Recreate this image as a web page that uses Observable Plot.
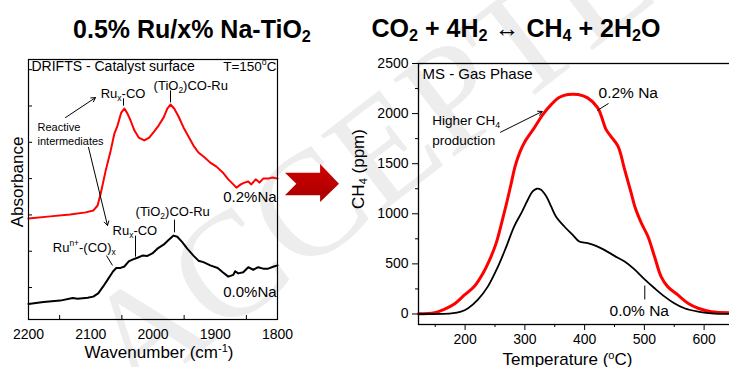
<!DOCTYPE html>
<html>
<head>
<meta charset="utf-8">
<script src="https://cdn.jsdelivr.net/npm/d3@7"></script>
<script src="https://cdn.jsdelivr.net/npm/@observablehq/plot@0.6"></script>
<style>
  html, body { margin: 0; padding: 0; background: #fff; overflow: hidden; }
  #wrap { position: relative; width: 729px; height: 367px; overflow: hidden;
          font-family: "Liberation Sans", Arial, sans-serif; color: #000; }
  .abs { position: absolute; white-space: nowrap; line-height: 1; }
  .c { transform: translate(-50%, -50%); }
  .title { font-weight: bold; font-size: 25px; }
  .axt { font-size: 17px; }
  sub, sup { font-size: 65%; line-height: 0; }
  sub { vertical-align: -0.3em; }
  sup { vertical-align: 0.5em; }
  #wm { font-family: "Liberation Serif", "DejaVu Serif", serif; font-size: 150px; color: #ededed;
        transform: translate(-50%, -50%) rotate(-37.6deg); }
  #blockArrow { position: absolute; left: 285px; top: 164px; width: 54px; height: 38px;
        background: linear-gradient(#d00000, #a80000);
        clip-path: polygon(0 23%, 65% 23%, 65% 0, 100% 52%, 65% 100%, 65% 82%, 0 82%, 21% 52%); }
</style>
</head>
<body>
<div id="wrap">
  <div id="wm" class="abs" style="left:409px;top:127px">ACCEPTED</div>
  <div id="leftPlot" class="abs" style="left:0;top:0"></div>
  <div id="rightPlot" class="abs" style="left:350px;top:0"></div>
  <div id="blockArrow"></div>
  <div class="abs c title" style="left:192px;top:29px">0.5% Ru/x% Na-TiO<sub>2</sub></div>
  <div class="abs c title" style="left:516px;top:27.5px">CO<sub>2</sub> + 4H<sub>2</sub> <span style="font-weight:normal">&#8596;</span> CH<sub>4</sub> + 2H<sub>2</sub>O</div>
  <div class="abs c axt" style="left:16.5px;top:182px;transform:translate(-50%,-50%) rotate(-90deg)">Absorbance</div>
  <div class="abs c axt" style="left:159px;top:351.5px">Wavenumber (cm<sup>-1</sup>)</div>
  <div class="abs c axt" style="left:358px;top:168.5px;transform:translate(-50%,-50%) rotate(-90deg)">CH<sub>4</sub> (ppm)</div>
  <div class="abs c axt" style="left:567.5px;top:359px">Temperature (<sup>o</sup>C)</div>
</div>
<script>
// ---------- LEFT PANEL: DRIFTS spectra (arbitrary absorbance units) ----------
const wnRed = [2200,2165,2133,2108,2096,2089,2084,2076,2068,2062,2057,2051,2046,2041,2036,2030,2023,2014,2006,1998,1991,1983,1977,1972,1966,1959,1951,1943,1935,1927,1917,1908,1898,1888,1879,1871,1866,1859,1853,1847,1842,1835,1829,1823,1815,1808,1800];
const absRed = [1.90,1.96,2.01,2.07,2.12,2.26,2.59,3.22,3.77,4.24,4.46,4.82,4.93,4.79,4.60,4.33,4.13,4.05,4.13,4.30,4.46,4.68,4.93,5.04,4.93,4.71,4.41,4.16,3.91,3.72,3.58,3.44,3.33,3.17,2.98,2.84,2.75,2.84,2.89,2.92,2.84,2.98,2.89,3.00,3.00,3.03,3.00];
const wnBlack = [2200,2176,2149,2129,2121,2105,2096,2088,2080,2072,2064,2059,2052,2046,2039,2033,2025,2017,2009,2001,1993,1983,1975,1967,1961,1953,1945,1935,1927,1919,1908,1896,1888,1879,1871,1868,1863,1855,1847,1839,1831,1823,1815,1806,1800];
const absBlack = [-0.45,-0.40,-0.36,-0.29,-0.31,-0.28,-0.25,-0.16,0.03,0.24,0.45,0.54,0.54,0.58,0.72,0.77,0.82,0.88,0.87,0.94,1.07,1.18,1.31,1.43,1.40,1.25,1.07,0.88,0.74,0.70,0.61,0.54,0.42,0.30,0.35,0.45,0.39,0.42,0.56,0.49,0.56,0.52,0.52,0.58,0.61];
const wnTicks = [2200, 2100, 2000, 1900, 1800];
const wnMinorTicks = [2150, 2050, 1950, 1850];
const absTicks = [0, 1, 2, 3, 4, 5, 6];

const leftPeakLabels = ["Ru_{x}-CO", "(TiO_{2})CO-Ru", "Ru_{x}-CO", "(TiO_{2})CO-Ru", "Ru^{n+}-(CO)_{x}"];
const leftPeakWn = [2084, 1999, 2065, 2028, 2161];
const leftPeakAbs = [5.34, 5.56, 1.57, 2.09, 1.10];
const leftSeriesLabels = ["0.2%Na", "0.0%Na"];
const leftSeriesWn = [1801.5, 1801.5];
const leftSeriesAbs = [2.48, -0.14];
const noteLines = ["Reactive", "intermediates"];
const noteWn = [2185.5, 2185.5];
const noteAbs = [4.40, 4.02];
const leftLeaders = [ // [wn1, a1, wn2, a2]
  [2047.4, 5.21, 2047.4, 5.01],
  [1971.9, 5.43, 1971.9, 5.10],
  [1965.5, 1.87, 1965.5, 1.52],
  [2028.1, 1.43, 2028.1, 0.85],
  [2074.7, 0.88, 2065.1, 0.61]
];
const leftArrows = [
  [2140.6, 4.68, 2092.4, 5.23],
  [2103.6, 3.86, 2073.1, 1.71]
];

// ---------- RIGHT PANEL: MS CH4 signal ----------
const tempRed = [122,149,165,182,199,216,230,241,252,262,270,277,284,292,300,316,330,344,358,372,389,405,422,436,444,456,467,478,484,495,506,517,528,539,556,573,590,612,647];
const ppmRed = [3,13,47,100,190,280,407,540,707,930,1120,1300,1480,1620,1720,1860,1990,2090,2163,2190,2190,2157,2057,1840,1773,1673,1440,1207,1073,907,773,573,373,273,190,107,57,23,13];
const tempBlack = [122,177,193,205,221,238,255,269,282,294,305,313,320,327,336,344,352,366,380,391,405,419,433,450,467,483,500,517,534,550,567,590,612,647];
const ppmBlack = [0,7,23,57,140,273,473,673,873,1007,1140,1223,1250,1240,1173,1073,973,873,790,723,707,680,640,580,523,447,347,257,173,107,57,23,7,0];
const tempTicks = [200, 300, 400, 500, 600];
const tempMinorTicks = [150, 250, 350, 450, 550, 650];
const ppmTicks = [0, 500, 1000, 1500, 2000, 2500];
const ppmMinorTicks = [250, 750, 1250, 1750, 2250];

const rightSeriesLabels = ["0.2% Na", "0.0% Na"];
const rightSeriesTemp = [423.3, 441.7];
const rightSeriesPpm = [2210, 27];
const rightNoteLines = ["Higher CH_{4}", "production"];
const rightNoteTemp = [144.9, 144.9];
const rightNotePpm = [1931, 1731];
const rightLeaders = [
  [421.1, 2031, 440, 2101],
  [500.7, 284, 500.7, 145]
];
const rightArrows = [
  [259.2, 1814, 329, 2021]
];

// ---------- helpers ----------
const zipXY = (xs, ys) => xs.map((x, i) => ({x, y: ys[i]}));
const segs = rows => rows.map(([x1, y1, x2, y2]) => ({x1, y1, x2, y2}));
const labels = (texts, xs, ys) => texts.map((t, i) => ({t, x: xs[i], y: ys[i]}));

function richify(svg) {
  const ns = "http://www.w3.org/2000/svg";
  svg.querySelectorAll("text").forEach(t => {
    const s = t.textContent;
    if (!/[_^]\{/.test(s)) return;
    while (t.firstChild) t.removeChild(t.firstChild);
    const re = /([_^])\{([^}]*)\}/g;
    let last = 0, m;
    const add = (str, kind) => {
      const sp = document.createElementNS(ns, "tspan");
      sp.textContent = str;
      if (kind) {
        sp.setAttribute("font-size", "65%");
        sp.setAttribute("baseline-shift", kind === "_" ? "-0.35em" : "0.7em");
      }
      t.appendChild(sp);
    };
    while ((m = re.exec(s))) {
      if (m.index > last) add(s.slice(last, m.index));
      add(m[2], m[1]);
      last = re.lastIndex;
    }
    if (last < s.length) add(s.slice(last));
  });
}

const font = "'Liberation Sans', Arial, sans-serif";
const fmt = d => String(d);

// ---------- left plot ----------
const left = Plot.plot({
  width: 290, height: 367,
  marginLeft: 28, marginRight: 13, marginTop: 59, marginBottom: 48,
  style: {background: "transparent", maxWidth: "none", fontFamily: font, fontSize: "14px", color: "#000", overflow: "visible"},
  x: {domain: [2200, 1800]},
  y: {domain: [-0.88, 6.28], axis: null},
  marks: [
    Plot.axisX({ticks: wnTicks, tickSize: 0, tickPadding: 10, tickFormat: fmt, label: null, fontSize: 14}),
    Plot.tickX(wnMinorTicks, {x: d => d, insetTop: 256, stroke: "#000"}),
    Plot.tickY(absTicks, {y: d => d, insetRight: 245, stroke: "#000"}),
    Plot.line(zipXY(wnRed, absRed), {x: "x", y: "y", stroke: "#ff0000", strokeWidth: 2}),
    Plot.line(zipXY(wnBlack, absBlack), {x: "x", y: "y", stroke: "#000", strokeWidth: 2}),
    Plot.link(segs(leftLeaders), {x1: "x1", y1: "y1", x2: "x2", y2: "y2", stroke: "#000", strokeWidth: 1}),
    Plot.arrow(segs(leftArrows), {x1: "x1", y1: "y1", x2: "x2", y2: "y2", stroke: "#000", strokeWidth: 1, headLength: 7}),
    Plot.text(labels(leftPeakLabels, leftPeakWn, leftPeakAbs), {x: "x", y: "y", text: "t", textAnchor: "start", fontSize: 13}),
    Plot.text(labels(leftSeriesLabels, leftSeriesWn, leftSeriesAbs), {x: "x", y: "y", text: "t", textAnchor: "end", fontSize: 15}),
    Plot.text(labels(noteLines, noteWn, noteAbs), {x: "x", y: "y", text: "t", textAnchor: "start", fontSize: 11}),
    Plot.text(["DRIFTS - Catalyst surface"], {frameAnchor: "top-left", textAnchor: "start", lineAnchor: "top", dx: 3, dy: 2, fontSize: 14}),
    Plot.text(["T=150^{o}C"], {frameAnchor: "top-right", textAnchor: "end", lineAnchor: "top", dx: -1, dy: 2, fontSize: 13.5}),
    Plot.frame({stroke: "#000", strokeWidth: 1.2})
  ]
});
richify(left);
document.getElementById("leftPlot").appendChild(left);

// ---------- right plot ----------
const right = Plot.plot({
  width: 382, height: 367,
  marginLeft: 68, marginRight: 0, marginTop: 63, marginBottom: 43,
  style: {background: "transparent", maxWidth: "none", fontFamily: font, fontSize: "14px", color: "#000", overflow: "visible"},
  x: {domain: [122, 647.5]},
  y: {domain: [-105, 2500]},
  marks: [
    Plot.axisX({ticks: tempTicks, tickSize: 6, tickPadding: 4, tickFormat: fmt, label: null, fontSize: 14}),
    Plot.axisX({ticks: tempMinorTicks, tickSize: 3, tickFormat: () => "", label: null}),
    Plot.axisY({ticks: ppmTicks, tickSize: 6, tickPadding: 4, tickFormat: fmt, label: null, fontSize: 14}),
    Plot.axisY({ticks: ppmMinorTicks, tickSize: 3, tickFormat: () => "", label: null}),
    Plot.line(zipXY(tempRed, ppmRed), {x: "x", y: "y", stroke: "#ff0000", strokeWidth: 3, curve: "catmull-rom"}),
    Plot.line(zipXY(tempBlack, ppmBlack), {x: "x", y: "y", stroke: "#000", strokeWidth: 1.8, curve: "catmull-rom"}),
    Plot.link(segs(rightLeaders), {x1: "x1", y1: "y1", x2: "x2", y2: "y2", stroke: "#000", strokeWidth: 1}),
    Plot.arrow(segs(rightArrows), {x1: "x1", y1: "y1", x2: "x2", y2: "y2", stroke: "#000", strokeWidth: 1, headLength: 7}),
    Plot.text(labels(rightSeriesLabels, rightSeriesTemp, rightSeriesPpm), {x: "x", y: "y", text: "t", textAnchor: "start", fontSize: 15.5}),
    Plot.text(labels(rightNoteLines, rightNoteTemp, rightNotePpm), {x: "x", y: "y", text: "t", textAnchor: "start", fontSize: 13.5}),
    Plot.text(["MS - Gas Phase"], {frameAnchor: "top-left", textAnchor: "start", lineAnchor: "top", dx: 4, dy: 5, fontSize: 15}),
    Plot.frame({stroke: "#000", strokeWidth: 1.3})
  ]
});
richify(right);
document.getElementById("rightPlot").appendChild(right);
</script>
</body>
</html>
